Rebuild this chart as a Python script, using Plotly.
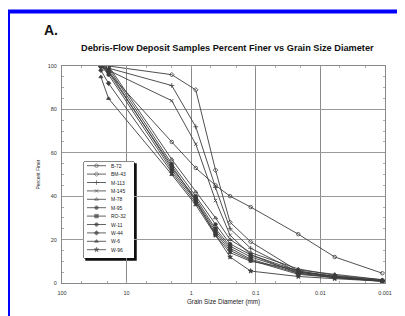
import plotly.graph_objects as go

# Grain sizes (mm) at which percent finer was read
sizes = [25, 19, 2.0, 0.85, 0.42, 0.25, 0.12, 0.022, 0.006, 0.0011]

sample_names = ["B-72", "BM-43", "M-113", "M-145", "M-78", "M-95",
                "RO-32", "W-11", "W-44", "W-6", "W-96"]

B_72  = [100, 97, 65, 53, 45, 40, 35, 22.5, 12, 4.5]
BM_43 = [100, 100, 96, 89, 52, 28, 19, 5.5, 3, 1]
M_113 = [100, 99, 91, 72, 44, 25, 16, 5, 3, 1]
M_145 = [100, 98, 84, 64, 38, 22, 13, 4.5, 2.5, 1]
M_78  = [100, 100, 57, 42, 30, 20, 14, 6.5, 3.5, 1.5]
M_95  = [100, 99, 55, 40, 27, 18, 13, 5.5, 3, 1]
RO_32 = [100, 98, 53, 39, 25, 17, 12, 5, 3, 1]
W_11  = [100, 96, 52, 38, 24, 16, 11, 4.5, 2.5, 0.8]
W_44  = [98, 92, 51, 37, 23, 15, 10.5, 4, 2.5, 0.8]
W_6   = [95, 85, 50, 36, 22, 14, 10, 6, 4, 1.5]
W_96  = [100, 97, 54, 38, 22, 12, 5.5, 3, 2, 0.8]

series = [B_72, BM_43, M_113, M_145, M_78, M_95, RO_32, W_11, W_44, W_6, W_96]
symbols = ["circle-open", "diamond-open", "cross-thin-open", "x-thin-open",
           "triangle-up-open", "circle", "square", "circle", "diamond",
           "triangle-up", "star"]

x_tickvals = [100, 10, 1, 0.1, 0.01, 0.001]
x_ticktext = ["100", "10", "1", "0.1", "0.01", "0.001"]
y_tickvals = [0, 20, 40, 60, 80, 100]

LINE = "#3c3c3c"
FONT = "Liberation Sans, Arial, sans-serif"

# page body has an 8px margin: work in screen pixels, convert to figure pixels
OFF = 8
SW, SH = 405, 316
W_, H_ = SW - OFF, SH - OFF
L, R, T, B = 62, 385, 66, 283          # plot area, screen px
pw, ph = R - L, B - T

def px(xp):
    return (xp - L) / pw

def py(yp):
    return (B - yp) / ph

fig = go.Figure()
for name, vals, sym in zip(sample_names, series, symbols):
    fig.add_trace(go.Scatter(
        x=sizes, y=vals, mode="lines+markers", name=name,
        line=dict(color=LINE, width=0.9),
        marker=dict(symbol=sym, size=3.5, color=LINE,
                    line=dict(color=LINE, width=0.8)),
        showlegend=False))

# manual legend drawn on an overlay axis (screen-pixel units)
leg_x0, leg_x1, leg_y0, leg_y1 = 84, 134, 162, 258
n = len(sample_names)
row_y = [165.7 + i * 8.4 for i in range(n)]
for name, sym, ry in zip(sample_names, symbols, row_y):
    fig.add_trace(go.Scatter(
        x=[87, 96.5, 106], y=[ry, ry, ry], xaxis="x2", yaxis="y2",
        mode="lines+markers", line=dict(color=LINE, width=0.8),
        marker=dict(symbol=sym, size=[0, 3.5, 0], color=LINE,
                    line=dict(color=LINE, width=0.8)),
        showlegend=False, hoverinfo="skip"))
    fig.add_annotation(x=109, y=ry, xref="x2", yref="y2", text=name,
                       showarrow=False, xanchor="left", yanchor="middle",
                       font=dict(family=FONT, size=5, color="#222"))

fig.update_layout(
    width=W_, height=H_,
    margin=dict(l=L - OFF, r=SW - R, t=T - OFF, b=SH - B),
    paper_bgcolor="white", plot_bgcolor="white",
    font=dict(family=FONT, color="#222"),
    xaxis=dict(type="log", range=[2, -3], tickvals=x_tickvals,
               ticktext=x_ticktext, showgrid=True, gridcolor="#8a8a8a",
               gridwidth=1.2, showline=True, linecolor="#8a8a8a",
               linewidth=1, mirror="allticks", ticks="inside", ticklen=3,
               tickcolor="#999", zeroline=False, ticklabelstandoff=4,
               tickfont=dict(size=5.5, color="#333"),
               minor=dict(ticks="inside", ticklen=2, tickcolor="#aaa",
                          showgrid=False),
               title=dict(text="Grain Size Diameter (mm)", standoff=4,
                          font=dict(size=6.3, color="#222"))),
    yaxis=dict(range=[0, 100], tickvals=y_tickvals, showgrid=True,
               gridcolor="#9a9a9a", gridwidth=1, showline=True,
               linecolor="#8a8a8a", linewidth=1, mirror="allticks",
               ticks="inside", ticklen=3, tickcolor="#999", zeroline=False,
               tickfont=dict(size=5.5, color="#333"), ticklabelstandoff=3,
               minor=dict(ticks="inside", ticklen=2, dtick=5,
                          tickcolor="#aaa", showgrid=False),
               title=dict(text="Percent Finer", standoff=6,
                          font=dict(size=5, color="#222"))),
    xaxis2=dict(domain=[px(leg_x0), px(leg_x1)], range=[leg_x0, leg_x1],
                anchor="y2", visible=False, fixedrange=True),
    yaxis2=dict(domain=[py(leg_y1), py(leg_y0)], range=[leg_y1, leg_y0],
                anchor="x2", visible=False, fixedrange=True),
    showlegend=False,
)

# legend box with shadow
fig.add_shape(type="rect", xref="paper", yref="paper",
              x0=px(leg_x0 + 2), x1=px(leg_x1 + 2),
              y0=py(leg_y1 + 2), y1=py(leg_y0 + 2),
              line=dict(color="#111", width=1.5), fillcolor="#111", layer="between")
fig.add_shape(type="rect", xref="paper", yref="paper",
              x0=px(leg_x0), x1=px(leg_x1), y0=py(leg_y1), y1=py(leg_y0),
              line=dict(color="#111", width=1), fillcolor="white", layer="between")

# blue frame of the scanned page
fig.add_shape(type="rect", xref="paper", yref="paper",
              x0=px(8), x1=px(420), y0=py(330), y1=py(11.5),
              line=dict(color="#0000ff", width=4), layer="above")

fig.add_annotation(x=px(42), y=py(30), xref="paper", yref="paper", text="<b>A.</b>",
                   showarrow=False, xanchor="left", yanchor="middle",
                   font=dict(family=FONT, size=14, color="#111"))
fig.add_annotation(x=px(227), y=py(48), xref="paper", yref="paper",
                   text="<b>Debris-Flow Deposit Samples Percent Finer vs Grain Size Diameter</b>",
                   showarrow=False, xanchor="center", yanchor="middle",
                   font=dict(family=FONT, size=9.2, color="#111"))

fig.write_html("out.html")
